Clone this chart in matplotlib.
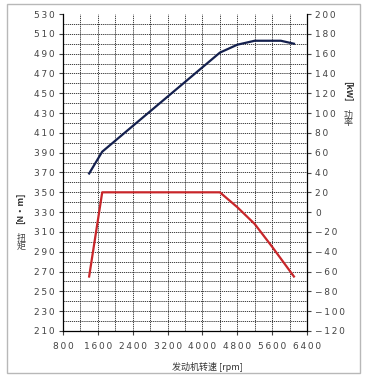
import numpy as np
import matplotlib
matplotlib.use('Agg')
import matplotlib.pyplot as plt
from matplotlib.patches import Rectangle

plt.rcParams['font.family'] = ['DejaVu Sans', 'Noto Sans CJK SC']

# engine speed [rpm]
rpm_torque = [1400, 1700, 4400, 4800, 5200, 5600, 5800, 6100]
torque_nm = [265, 350, 350, 335, 318, 295, 283, 265]

rpm_power = [1400, 1700, 4400, 4800, 5200, 5800, 6100]
power_kw = [39, 61, 161, 169, 173, 173, 170]

x_ticks = [800, 1600, 2400, 3200, 4000, 4800, 5600, 6400]
torque_ticks = list(range(210, 531, 20))
power_ticks = list(range(-120, 201, 20))


def spaced(v):
    # letter-spaced digits like the original Excel chart
    s = str(v).replace('-', '\u2212')
    return '\u2009'.join(s)


fig = plt.figure(figsize=(3.67, 3.83), dpi=100)
fig.patches.append(Rectangle((7 / 367, 1 - 373 / 383), 353 / 367, 369 / 383,
                             transform=fig.transFigure, fill=False,
                             edgecolor='#b8b8b8', linewidth=1.0))

ax = fig.add_axes([63 / 367, 1 - 331 / 383, 244 / 367, 317 / 383])
ax.set_xlim(800, 6400)
ax.set_ylim(210, 530)

# grid
for x in range(1200, 6400, 400):
    ax.axvline(x, color='#222222', lw=0.6, ls=(0, (1.5, 1)), zorder=1)
for y in range(220, 530, 10):
    ax.axhline(y, color='#222222', lw=0.6, ls=(0, (1.5, 1)), zorder=1)

ax.plot(rpm_torque, torque_nm, color='#c8262a', lw=1.6, zorder=3)

ax.set_xticks(x_ticks)
ax.set_xticklabels([spaced(v) for v in x_ticks])
ax.set_yticks(torque_ticks)
ax.set_yticklabels([spaced(v) for v in torque_ticks])

ax.spines['top'].set_visible(False)
ax.spines['right'].set_visible(False)
ax.spines['left'].set_linewidth(0.9)
ax.spines['bottom'].set_linewidth(0.9)
ax.tick_params(axis='both', labelsize=6.5, colors='#444444', length=3, width=0.8,
               pad=3)
ax.tick_params(axis='x', pad=5)

ax2 = ax.twinx()
ax2.set_ylim(-120, 200)
ax2.set_yticks(power_ticks)
ax2.set_yticklabels([spaced(v) for v in power_ticks])
ax2.plot(rpm_power, power_kw, color='#14204e', lw=1.6, zorder=3)
for sp in ['top', 'left', 'bottom']:
    ax2.spines[sp].set_visible(False)
ax2.spines['right'].set_linewidth(0.9)
ax2.tick_params(axis='y', labelsize=6.5, colors='#444444', length=3, width=0.8,
                pad=3)

# axis labels
cjk = ['Noto Sans CJK SC', 'DejaVu Sans']
fig.text(207 / 367, 1 - 367 / 383, '发动机转速 [rpm]', family=cjk, fontsize=6.5,
         color='#333333', ha='center', va='center')
fig.text(21 / 367, 1 - 208 / 383, '[N·m]', family=cjk, fontsize=6.5,
         color='#333333', ha='center', va='center', rotation=90,
         fontweight='bold')
fig.text(21 / 367, 1 - 238 / 383, '扭', family=cjk, fontsize=6.5,
         color='#444444', ha='center', va='center')
fig.text(21 / 367, 1 - 246 / 383, '矩', family=cjk, fontsize=6.5,
         color='#444444', ha='center', va='center')
fig.text(348 / 367, 1 - 91 / 383, '[kW]', family=cjk, fontsize=6.5,
         color='#333333', ha='center', va='center', rotation=-90,
         fontweight='bold')
fig.text(348 / 367, 1 - 115 / 383, '功', family=cjk, fontsize=6.5,
         color='#444444', ha='center', va='center')
fig.text(348 / 367, 1 - 123 / 383, '率', family=cjk, fontsize=6.5,
         color='#444444', ha='center', va='center')

fig.savefig('out.png', dpi=100)
